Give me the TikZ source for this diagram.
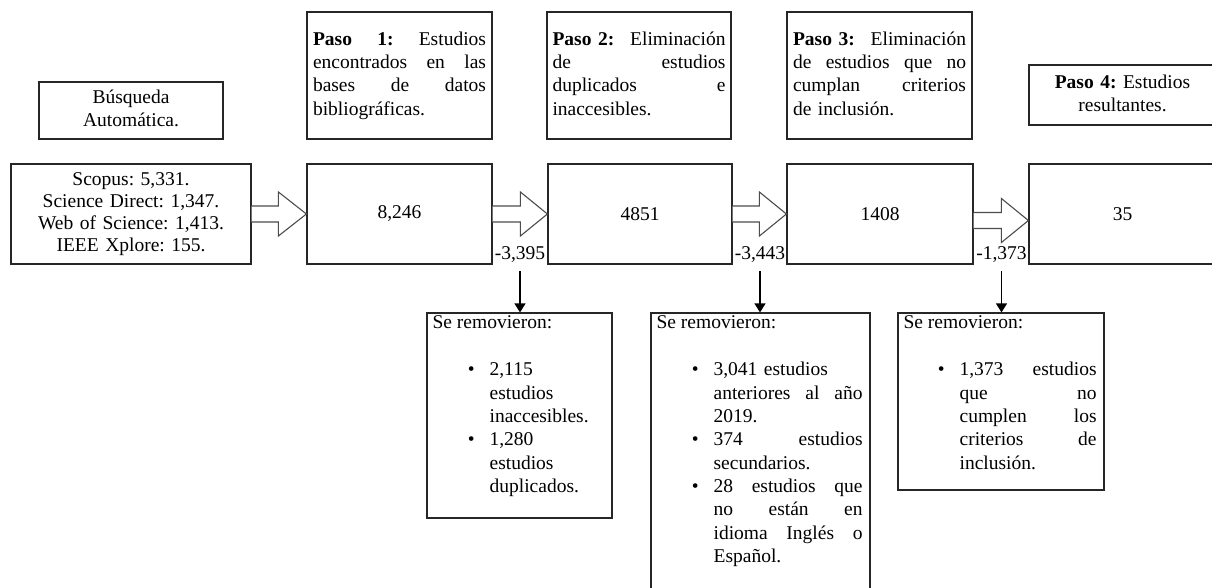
\documentclass[tikz,border=0pt]{standalone}
\usepackage{fontspec}
\setmainfont{Liberation Serif}
\usetikzlibrary{calc,arrows.meta}
\newcommand\fs{\fontsize{19.5}{23.3}\selectfont\frenchspacing}
\newcommand\fss{\fontsize{19.5}{22}\selectfont\frenchspacing}
\newcommand\jl[2]{\makebox[#1][s]{#2}}
\newcommand\bul{\leavevmode\llap{\textbullet\hspace{15pt}}}
\tikzset{
  box/.style={draw=black!85, line width=1.2pt, inner sep=0pt, font=\fs},
  txt/.style={inner sep=0pt, font=\fs, align=left},
  barrow/.style={draw=black!70, line width=1.1pt, fill=white, line join=miter},
  darrow/.style={draw=black, line width=1.2pt, -{Triangle[width=11pt,length=9pt]}, shorten <=8pt},
  lbl/.style={inner sep=0pt, font=\fs},
}
\begin{document}
\frenchspacing
\begin{tikzpicture}[x=1pt,y=-1pt]
\useasboundingbox (0,0) rectangle (1212,587);
\fill[white] (0,0) rectangle (1212,587);

% top description boxes
\node[box, minimum width=184pt, minimum height=57pt, text width=170pt, align=center] (busq) at (131,110.5)
  {\strut Búsqueda\\Automática.\strut};
\node[box, minimum width=185pt, minimum height=127pt, text width=173pt, align=left] (P1) at (399.5,75.5)
  {\strut\jl{173pt}{\textbf{Paso\hfill 1:}\hfill Estudios}\\\jl{173pt}{encontrados\hfill en\hfill las}\\\jl{173pt}{bases\hfill de\hfill datos}\\bibliográficas.\strut};
\node[box, minimum width=184pt, minimum height=127pt, text width=173pt, align=left] (P2) at (639,75.5)
  {\strut\jl{173pt}{\textbf{Paso 2:}\hfill Eliminación}\\\jl{173pt}{de\hfill estudios}\\\jl{173pt}{duplicados\hfill e}\\inaccesibles.\strut};
\node[box, minimum width=185pt, minimum height=127pt, text width=173pt, align=left] (P3) at (879.5,75.5)
  {\strut\jl{173pt}{\textbf{Paso 3:}\hfill Eliminación}\\\jl{173pt}{de\hfill estudios\hfill que\hfill no}\\\jl{173pt}{cumplan\hfill criterios}\\de inclusión.\strut};
\node[box, minimum width=187pt, minimum height=60pt, text width=170pt, align=center] (P4) at (1122.5,95)
  {\strut\textbf{Paso 4:} Estudios\\resultantes.\strut};

% middle row
\node[box, minimum width=240pt, minimum height=100pt, text width=230pt, align=center, font=\fss] (S) at (131,214)
  {\strut Scopus: 5,331.\\Science Direct: 1,347.\\Web of Science: 1,413.\\IEEE Xplore: 155.\strut};
\node[box, minimum width=185pt, minimum height=100pt] (N1) at (399.5,214) {8,246};
\node[box, minimum width=184pt, minimum height=100pt] (N2) at (640,214) {4851};
\node[box, minimum width=186pt, minimum height=100pt] (N3) at (880,214) {1408};
\node[box, minimum width=187pt, minimum height=100pt] (N4) at (1122.5,214) {35};

% block arrows
\draw[barrow] ($(S.east)+(0,-8)$) -- ($(N1.west)+(-28,-8)$) -- ($(N1.west)+(-28,-22)$) -- (N1.west)
  -- ($(N1.west)+(-28,22)$) -- ($(N1.west)+(-28,8)$) -- ($(S.east)+(0,8)$);
\draw[barrow] ($(N1.east)+(0,-8)$) -- ($(N2.west)+(-27,-8)$) -- ($(N2.west)+(-27,-22)$) -- (N2.west)
  -- ($(N2.west)+(-27,22)$) -- ($(N2.west)+(-27,8)$) -- ($(N1.east)+(0,8)$);
\draw[barrow] ($(N2.east)+(0,-8)$) -- ($(N3.west)+(-27,-8)$) -- ($(N3.west)+(-27,-22)$) -- (N3.west)
  -- ($(N3.west)+(-27,22)$) -- ($(N3.west)+(-27,8)$) -- ($(N2.east)+(0,8)$);
\draw[barrow] ($(N3.east)+(0,-1.5)$) -- ($(N4.west)+(-27,-1.5)$) -- ($(N4.west)+(-27,-15.5)$) -- ($(N4.west)+(0,6.5)$)
  -- ($(N4.west)+(-27,28.5)$) -- ($(N4.west)+(-27,14.5)$) -- ($(N3.east)+(0,14.5)$);

% removal labels
\node[lbl] (l1) at (520,255) {-3,395};
\node[lbl] (l2) at (760,255) {-3,443};
\node[lbl] (l3) at (1001.5,255) {-1,373};

% bottom boxes
\node[box, minimum width=185pt, minimum height=205pt] (bA) at (519.5,415.5) {};
\node[box, minimum width=219pt, minimum height=287pt] (bB) at (760.5,456.5) {};
\node[box, minimum width=206pt, minimum height=177pt] (bC) at (1001,401.5) {};

\node[txt, anchor=north west] (hA) at ($(bA.north west)+(6,0)$) {\strut Se removieron:};
\node[txt, anchor=north west] (hB) at ($(bB.north west)+(6,0)$) {\strut Se removieron:};
\node[txt, anchor=north west] (hC) at ($(bC.north west)+(6,0)$) {\strut Se removieron:};

\node[txt, anchor=north west, text width=115pt] (tA) at ($(bA.north west)+(63,47)$)
  {\strut\bul 2,115\\estudios\\inaccesibles.\\\bul 1,280\\estudios\\duplicados.};
\node[txt, anchor=north west, text width=149pt] (tB) at ($(bB.north west)+(63,47)$)
  {\strut\bul 3,041 estudios\\\jl{149pt}{anteriores\hfill al\hfill año}\\2019.\\\bul\jl{149pt}{374\hfill estudios}\\secundarios.\\\bul\jl{149pt}{28\hfill estudios\hfill que}\\\jl{149pt}{no\hfill están\hfill en}\\\jl{149pt}{idioma\hfill Inglés\hfill o}\\Español.};
\node[txt, anchor=north west, text width=137pt] (tC) at ($(bC.north west)+(62,47)$)
  {\strut\bul\jl{137pt}{1,373\hfill estudios}\\\jl{137pt}{que\hfill no}\\\jl{137pt}{cumplen\hfill los}\\\jl{137pt}{criterios\hfill de}\\inclusión.};

% down arrows
\draw[darrow] (l1.south) -- (l1 |- bA.north);
\draw[darrow] (l2.south) -- (l2 |- bB.north);
\draw[darrow] (l3.south) -- (l3 |- bC.north);
\end{tikzpicture}
\end{document}
